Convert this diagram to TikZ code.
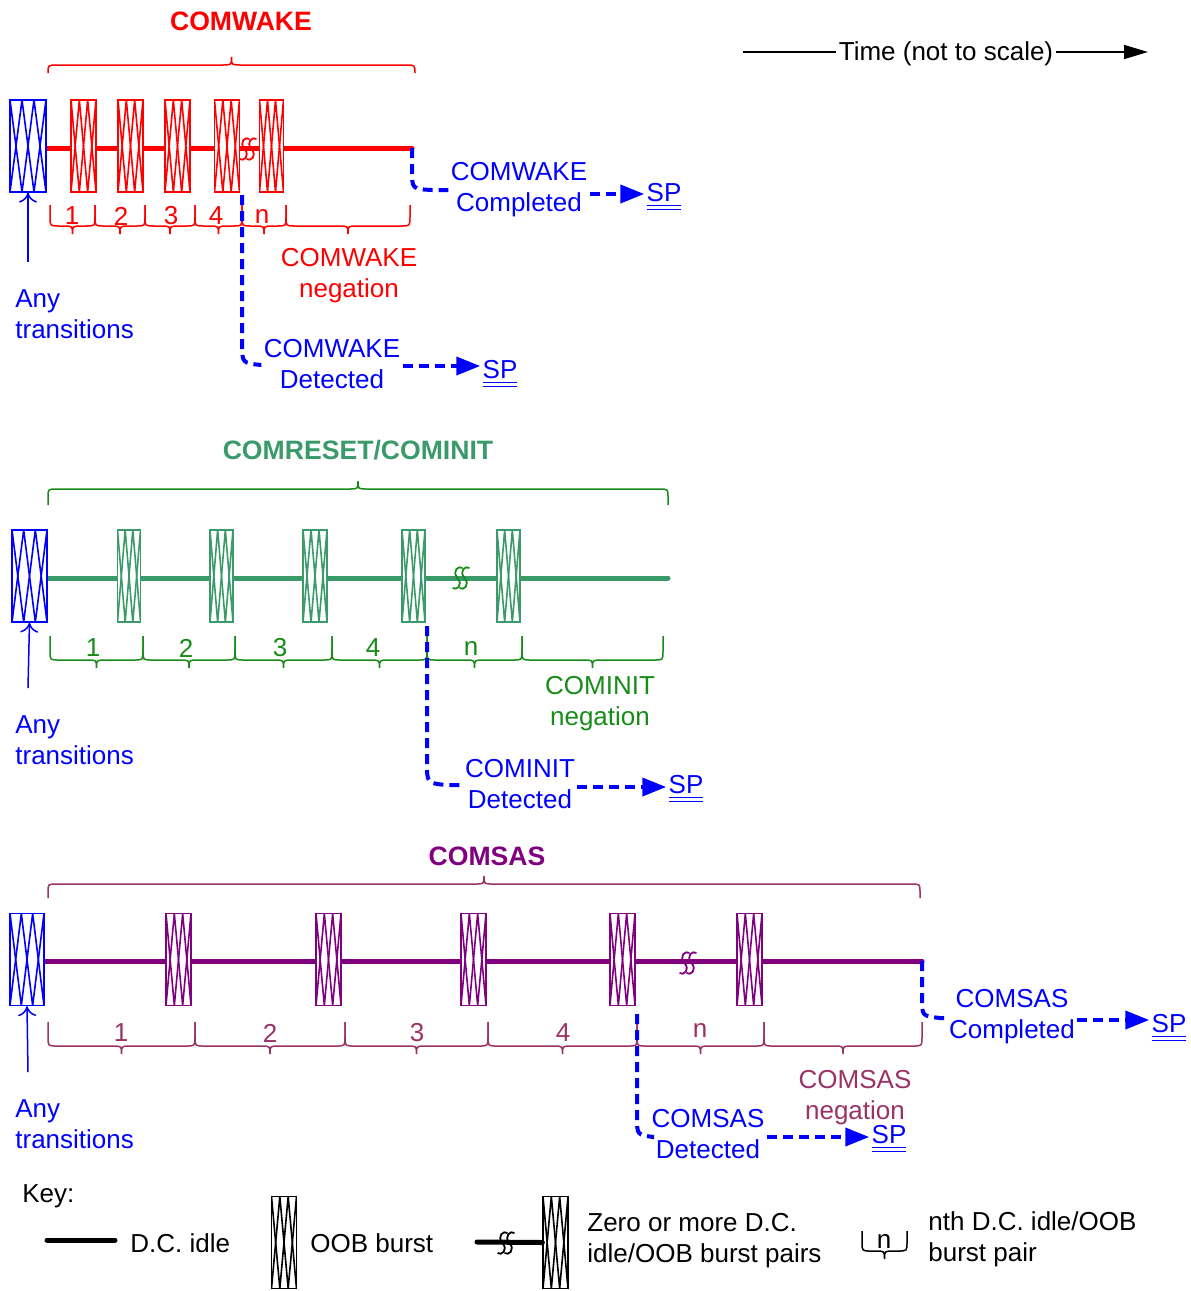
\documentclass[tikz,border=0pt]{standalone}
\usepackage{fontspec}
\setmainfont{Liberation Sans}
\usetikzlibrary{arrows.meta,calc}
\definecolor{cwred}{RGB}{255,0,0}
\definecolor{cblue}{RGB}{0,0,255}
\definecolor{sgreen}{RGB}{58,154,106}
\definecolor{dgreen}{RGB}{24,140,24}
\definecolor{purp}{RGB}{128,0,128}
\definecolor{plum}{RGB}{153,51,102}
\newcommand\bbr[5]{%
 \pgfmathsetmacro\bm{(#1+#2)/2}%
 \draw[#5, line width=0.75pt] (#1,#3) -- ({#1},{#4-9}) .. controls (#1,#4) .. ({#1+9},#4) -- ({\bm-9},#4) .. controls (\bm,#4) .. (\bm,{#4+8}) .. controls (\bm,#4) .. ({\bm+9},#4) -- ({#2-9},#4) .. controls (#2,#4) .. ({#2},{#4-9}) -- (#2,#3);}
\newcommand\tbr[5]{%
 \pgfmathsetmacro\bm{(#1+#2)/2}%
 \draw[#5, line width=0.75pt] (#1,#3) -- ({#1},{#4+8}) .. controls (#1,#4) .. ({#1+9},#4) -- ({\bm-9},#4) .. controls (\bm,#4) .. (\bm,{#4-8}) .. controls (\bm,#4) .. ({\bm+9},#4) -- ({#2-9},#4) .. controls (#2,#4) .. ({#2},{#4+8}) -- (#2,#3);}
\newcommand\brkmark[3]{%
 \foreach \dx in {-3.5,3.5}{\draw[#3, line width=0.9pt] ({#1+\dx+5},{#2-10}) .. controls ({#1+\dx+1},{#2-13}) and ({#1+\dx-6},{#2-7}) .. ({#1+\dx},{#2}) .. controls ({#1+\dx+6},{#2+7}) and ({#1+\dx-1},{#2+13}) .. ({#1+\dx-5},{#2+10});}}
\begin{document}
\begin{tikzpicture}[x=0.5pt,y=-0.5pt]
\tikzset{
 txt/.style={font=\fontsize{13}{15.5}\selectfont, align=center, inner sep=1pt},
 ttl/.style={font=\fontsize{13.3}{15}\selectfont\bfseries, inner sep=1pt},
 oob/.style={draw=#1, fill=white, line width=0.6pt, inner sep=0pt, minimum height=46pt,
   path picture={
     \path (path picture bounding box.north west) coordinate (ppnw)
           (path picture bounding box.north east) coordinate (ppne)
           (path picture bounding box.south west) coordinate (ppsw)
           (path picture bounding box.south east) coordinate (ppse);
     \draw[#1, line width=0.8pt] (ppnw) -- ($(ppsw)!1/3!(ppse)$) -- ($(ppnw)!2/3!(ppne)$) -- (ppse);
     \draw[#1, line width=0.8pt] (ppsw) -- ($(ppnw)!1/3!(ppne)$) -- ($(ppsw)!2/3!(ppse)$) -- (ppne);
   }},
 idle/.style={line width=2.5pt, line cap=round},
 dblue/.style={cblue, line width=2pt, dash pattern=on 5pt off 3pt},
 darr/.style={dblue, -{Triangle[length=12pt,width=9pt]}},
 uparr/.style={cblue, line width=0.75pt, -{To[length=5pt,width=9pt]}},
 sp/.style={txt, cblue},
}
\useasboundingbox (0,0) rectangle (1190,1291);

% ---------- Time
\node[txt] (tm) at (946,54) {Time (not to scale)};
\draw[line width=0.75pt] (743,52) -- (tm.west |- 0,52);
\draw[line width=0.75pt, -{Triangle[length=12pt,width=7pt]}] (tm.east |- 0,52) -- (1148,52);

% ================= COMWAKE
\node[ttl, cwred] (t1) at (241,21) {COMWAKE};
\tbr{48}{415}{73}{65}{cwred}
\coordinate (wkend) at (412,148);
\draw[idle, cwred] (46,148) -- (wkend);
\node[oob=cblue, minimum width=18pt] (wb0) at (28,146) {};
\node[oob=cwred, minimum width=12.5pt] (wb1) at (83.5,146) {};
\node[oob=cwred, minimum width=12.5pt] (wb2) at (130.5,146) {};
\node[oob=cwred, minimum width=12.5pt] (wb3) at (177.5,146) {};
\node[oob=cwred, minimum width=12.5pt] (wb4) at (227,146) {};
\node[oob=cwred, minimum width=12pt] (wb5) at (271.5,146) {};
\brkmark{248}{149}{cwred}
\draw[uparr] (28,262) -- (wb0.south);
\node[txt, cblue, align=left, anchor=west] (wany) at (13,314) {Any\\transitions};
\bbr{50}{95}{205}{226}{cwred}
\bbr{95}{145}{205}{226}{cwred}
\bbr{145}{195}{205}{226}{cwred}
\bbr{195}{242}{205}{226}{cwred}
\bbr{242}{286}{205}{226}{cwred}
\bbr{286}{410}{205}{226}{cwred}
\node[txt, cwred] (wl1) at (72,216) {1};
\node[txt, cwred] (wl2) at (121,216) {2};
\node[txt, cwred] (wl3) at (171,216) {3};
\node[txt, cwred] (wl4) at (216,216) {4};
\node[txt, cwred] (wl5) at (262,216) {n};
\node[txt, cwred] (wneg) at (349,276) {COMWAKE\\negation};
\node[txt, cblue] (wcomp) at (519,190) {COMWAKE\\Completed};
\node[sp] (wsp1) at (664,197) {\underline{\underline{SP}}};
\draw[dblue] (wkend) -- (412,170) .. controls (412,189) .. (432,190) -- (wcomp.west |- 0,190);
\draw[darr] (wcomp.east |- 0,194) -- (wsp1.west |- 0,194);
\node[txt, cblue] (wdet) at (332,364) {COMWAKE\\Detected};
\node[sp] (wsp2) at (500,374) {\underline{\underline{SP}}};
\draw[dblue] (242,195) -- (242,343) .. controls (242,363) .. (261,365) -- (wdet.west |- 0,365);
\draw[darr] (wdet.east |- 0,366) -- (wsp2.west |- 0,366);

% ================= COMRESET/COMINIT
\node[ttl, sgreen] (t2) at (358,450) {COMRESET/COMINIT};
\tbr{48}{668}{505}{489}{dgreen}
\draw[idle, sgreen] (47,578) -- (668,578);
\node[oob=cblue, minimum width=17.5pt] (gb0) at (29.5,576) {};
\node[oob=sgreen, minimum width=11.5pt] (gb1) at (129,576) {};
\node[oob=sgreen, minimum width=11.5pt] (gb2) at (221.5,576) {};
\node[oob=sgreen, minimum width=12pt] (gb3) at (315,576) {};
\node[oob=sgreen, minimum width=11.5pt] (gb4) at (413.5,576) {};
\node[oob=sgreen, minimum width=11.5pt] (gb5) at (508.5,576) {};
\brkmark{461}{578}{dgreen}
\draw[uparr] (28,688) -- (gb0.south);
\node[txt, cblue, align=left, anchor=west] (gany) at (13,740) {Any\\transitions};
\bbr{50}{143}{636}{660}{dgreen}
\bbr{143}{235}{636}{660}{dgreen}
\bbr{235}{332}{636}{660}{dgreen}
\bbr{332}{427}{636}{660}{dgreen}
\bbr{427}{522}{636}{660}{dgreen}
\bbr{522}{663}{636}{660}{dgreen}
\node[txt, dgreen] (gl1) at (93,648) {1};
\node[txt, dgreen] (gl2) at (186,648) {2};
\node[txt, dgreen] (gl3) at (280,648) {3};
\node[txt, dgreen] (gl4) at (373,648) {4};
\node[txt, dgreen] (gl5) at (471,648) {n};
\node[txt, dgreen] (gneg) at (600,704) {COMINIT\\negation};
\node[txt, cblue] (gdet) at (520,784) {COMINIT\\Detected};
\node[sp] (gsp) at (686,789) {\underline{\underline{SP}}};
\draw[dblue] (427,626) -- (427,763) .. controls (427,783) .. (446,785) -- (gdet.west |- 0,785);
\draw[darr] (gdet.east |- 0,787) -- (gsp.west |- 0,787);

% ================= COMSAS
\node[ttl, purp] (t3) at (487,856) {COMSAS};
\tbr{48}{920}{898}{884}{plum}
\coordinate (send) at (922,961);
\draw[idle, purp] (44,961) -- (send);
\node[oob=cblue, minimum width=17pt] (sb0) at (27,959.5) {};
\node[oob=purp, minimum width=12.5pt] (sb1) at (178.5,959.5) {};
\node[oob=purp, minimum width=12.5pt] (sb2) at (328.5,959.5) {};
\node[oob=purp, minimum width=12.5pt] (sb3) at (473.5,959.5) {};
\node[oob=purp, minimum width=12.5pt] (sb4) at (622.5,959.5) {};
\node[oob=purp, minimum width=12.5pt] (sb5) at (749.5,959.5) {};
\brkmark{688}{963}{purp}
\draw[uparr] (28,1072) -- (sb0.south);
\node[txt, cblue, align=left, anchor=west] (sany) at (13,1124) {Any\\transitions};
\bbr{48}{195}{1022}{1046}{plum}
\bbr{195}{345}{1022}{1046}{plum}
\bbr{345}{488}{1022}{1046}{plum}
\bbr{488}{637}{1022}{1046}{plum}
\bbr{637}{764}{1022}{1046}{plum}
\bbr{764}{922}{1022}{1046}{plum}
\node[txt, plum] (sl1) at (121,1033) {1};
\node[txt, plum] (sl2) at (270,1033) {2};
\node[txt, plum] (sl3) at (417,1033) {3};
\node[txt, plum] (sl4) at (563,1033) {4};
\node[txt, plum] (sl5) at (700,1030) {n};
\node[txt, plum] (sneg) at (855,1098) {COMSAS\\negation};
\node[txt, cblue] (scomp) at (1012,1017) {COMSAS\\Completed};
\node[sp] (ssp1) at (1169,1028) {\underline{\underline{SP}}};
\draw[dblue] (send) -- (922,998) .. controls (922,1016) .. (940,1018) -- (scomp.west |- 0,1018);
\draw[darr] (scomp.east |- 0,1020) -- (ssp1.west |- 0,1020);
\node[txt, cblue] (sdet) at (708,1134) {COMSAS\\Detected};
\node[sp] (ssp2) at (889,1139) {\underline{\underline{SP}}};
\draw[dblue] (637,1014) -- (637,1117) .. controls (637,1135) .. (654,1137) -- (sdet.west |- 0,1137);
\draw[darr] (sdet.east |- 0,1137) -- (ssp2.west |- 0,1137);

% ================= Key
\node[txt, anchor=west] (key) at (20,1196) {Key:};
\draw[idle] (47,1240) -- (115,1240);
\node[txt, anchor=west] (kidle) at (128,1243) {D.C. idle};
\node[oob=black, minimum width=12.5pt] (kb1) at (284,1242.5) {};
\node[txt, anchor=west] (koob) at (308,1243) {OOB burst};
\node[oob=black, minimum width=12.5pt] (kb2) at (555.5,1242.5) {};
\draw[idle] (477,1242) -- (kb2.west);
\brkmark{506}{1243}{black}
\node[txt, anchor=west, align=left] (kzero) at (585,1241) {Zero or more D.C.\\idle/OOB burst pairs};
\bbr{862}{907}{1231}{1251}{black}
\node[txt] (kn) at (884,1241) {n};
\node[txt, anchor=west, align=left] (knth) at (926,1239) {nth D.C. idle/OOB\\burst pair};
\end{tikzpicture}
\end{document}
